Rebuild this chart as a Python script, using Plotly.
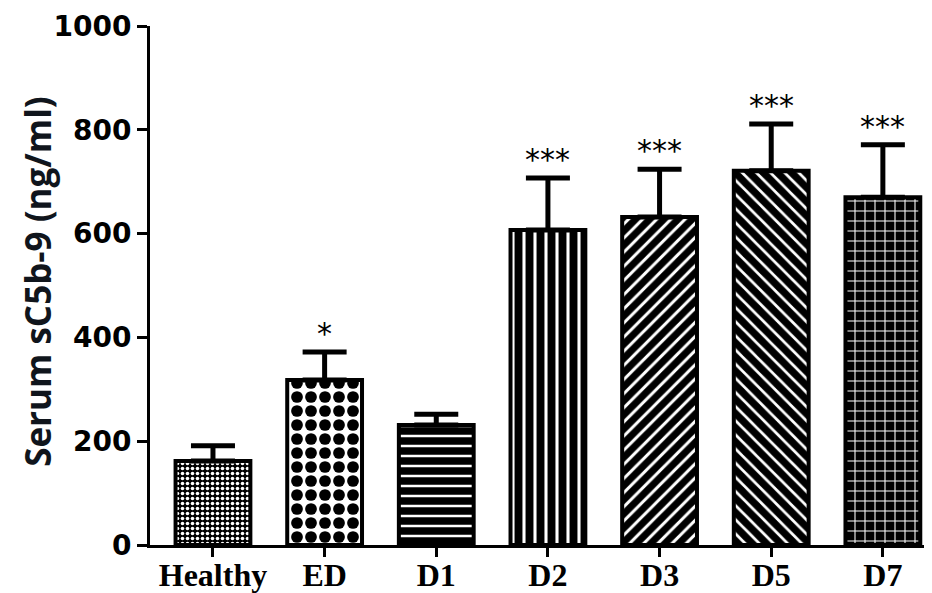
import plotly.graph_objects as go

categories = ["Healthy", "ED", "D1", "D2", "D3", "D5", "D7"]
means = [162, 318, 231, 607, 632, 721, 670]
sem = [29, 54, 21, 100, 92, 90, 101]
stars = ["", "*", "", "***", "***", "***", "***"]
y_ticks = [0, 200, 400, 600, 800, 1000]

pat_shape = [".", ".", "-", "|", "/", "\\", "+"]
pat_size = [5, 14, 10, 11, 10, 10, 10]
pat_solid = [0.4, 0.55, 0.75, 0.72, 0.7, 0.72, 0.2]
pat_bg = ["black", "white", "white", "white", "white", "white", "black"]
pat_fg = ["white", "black", "black", "black", "black", "black", "white"]

fig = go.Figure()
fig.add_trace(go.Bar(
    x=categories, y=means, width=0.67,
    marker=dict(
        color="white",
        line=dict(color="black", width=4),
        pattern=dict(shape=pat_shape, size=pat_size, solidity=pat_solid,
                     bgcolor=pat_bg, fgcolor=pat_fg, fillmode="replace"),
    ),
    error_y=dict(type="data", symmetric=False, array=sem,
                 arrayminus=[0] * len(sem), color="black", thickness=5, width=22),
    showlegend=False,
))

for c, m, e, s in zip(categories, means, sem, stars):
    if s:
        fig.add_annotation(x=c, y=m + e, text=s, showarrow=False, yanchor="bottom",
                           yshift=-1, font=dict(family="DejaVu Sans", size=30, color="black"))

fig.add_annotation(xref="paper", yref="paper", x=(38 - 150) / 782, y=0.507,
                   text="Serum sC5b-9 (ng/ml)", textangle=-90, showarrow=False,
                   xanchor="center", yanchor="middle",
                   font=dict(family="Open Sans", size=35, color="#10151c", weight="bold"))

fig.update_layout(
    width=924, height=593,
    margin=dict(l=142, r=0, t=18, b=56),
    paper_bgcolor="white", plot_bgcolor="white",
    bargap=0.33,
    xaxis=dict(range=[-0.564, 6.44], showline=True, linewidth=3, linecolor="black",
               ticks="outside", ticklen=9, tickwidth=3, tickcolor="black", automargin=False,
               ticklabelstandoff=-9,
               tickfont=dict(family="Liberation Serif", size=32, color="black", weight="bold"),
               showgrid=False, zeroline=False),
    yaxis=dict(range=[0, 1000], tickvals=y_ticks, showline=True, linewidth=3, linecolor="black",
               ticks="outside", ticklen=10, tickwidth=3, tickcolor="black", automargin=False,
               tickfont=dict(family="DejaVu Sans", size=28, color="black", weight="bold"),
               showgrid=False, zeroline=False),
)

fig.write_html("out.html")
